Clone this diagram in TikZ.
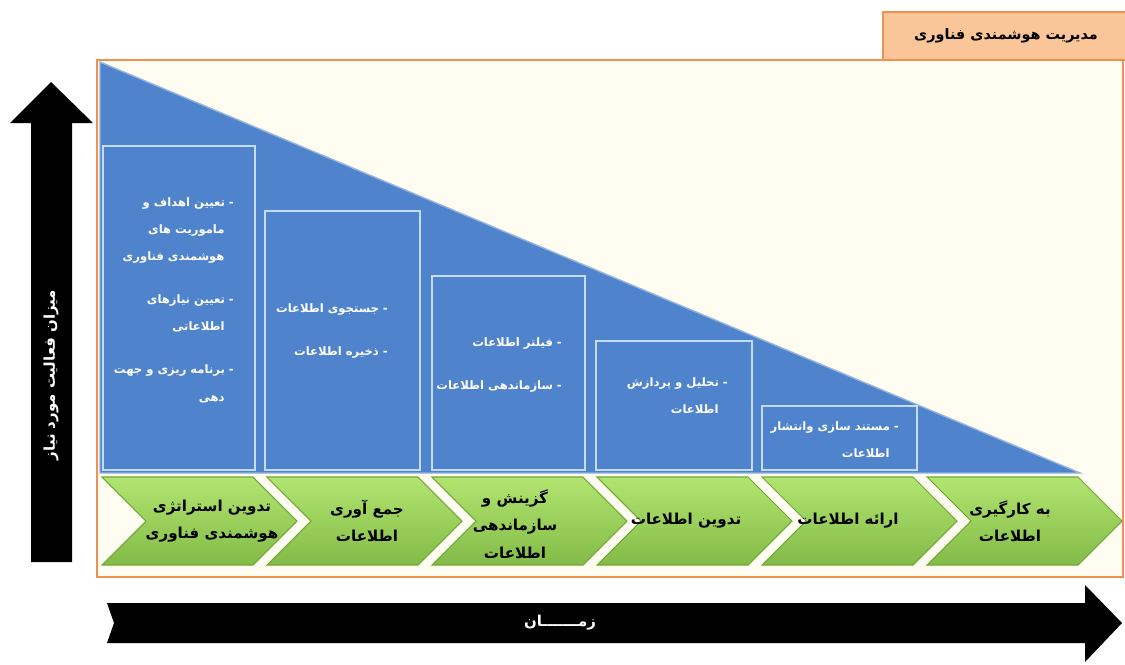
\documentclass[tikz,border=0pt]{standalone}
\usepackage{fontspec}
\newfontfamily\fafont[Script=Arabic]{DejaVu Sans}
\TeXXeTstate=1
\newcommand{\fa}[1]{\beginR #1\endR}
\usetikzlibrary{positioning,calc}
\definecolor{triblue}{RGB}{79,131,204}
\definecolor{boxline}{RGB}{195,220,248}
\definecolor{chevgreen}{RGB}{146,208,80}
\definecolor{chevlight}{RGB}{178,228,112}
\definecolor{chevedge}{RGB}{112,168,52}
\definecolor{frameorange}{RGB}{240,145,80}
\definecolor{titlefill}{RGB}{250,197,152}
\definecolor{framefill}{RGB}{255,252,242}
\tikzset{
	frame/.style={draw=frameorange, line width=1.6pt, fill=framefill},
	titlebox/.style={draw=frameorange, line width=1.2pt, fill=titlefill},
	tri/.style={fill=triblue, draw=triblue!60!white, line width=0.8pt},
	stagebox/.style={draw=boxline, line width=0.8pt},
	chev/.style={top color=chevlight, bottom color=chevgreen!90!black, draw=chevedge, line width=0.6pt},
	bigarrow/.style={fill=black},
	chevtext/.style={font=\fafont\bfseries\fontsize{8.6}{15.5}\selectfont, align=center, text=black},
	boxtext/.style={font=\fafont\bfseries\fontsize{6.6}{15.5}\selectfont, align=right, text=white, anchor=east},
	axistext/.style={font=\fafont\bfseries\fontsize{8.5}{12}\selectfont, text=white}
}
\begin{document}
\begin{tikzpicture}[x=0.02cm,y=-0.02cm]
\useasboundingbox (0,0) rectangle (1125,664);

%%%% frame and title
\draw[frame] (97,60) rectangle (1123,577);
\draw[titlebox] (883,12) rectangle (1126,60);
\node[font=\fafont\bfseries\fontsize{8.2}{12}\selectfont] (title) at (1006,36) {\fa{مدیریت هوشمندی فناوری}};

%%%% triangle
\draw[tri] (100,62) -- (100,473) -- (1080,473) -- cycle;

%%%% stage boxes
\draw[stagebox] (103,146) rectangle (255,470);
\draw[stagebox] (265,211) rectangle (420,470);
\draw[stagebox] (432,276) rectangle (585,470);
\draw[stagebox] (596,341) rectangle (752,470);
\draw[stagebox] (762,406) rectangle (917,470);

\node[boxtext] (b1) at (240,300) {\fa{- تعیین اهداف و}\\\fa{\hspace{0.8em}ماموریت های}\\\fa{\hspace{0.8em}هوشمندی فناوری}\\[9pt]\fa{- تعیین نیازهای}\\\fa{\hspace{0.8em}اطلاعاتی}\\[9pt]\fa{- برنامه ریزی و جهت}\\\fa{\hspace{0.8em}دهی}};
\node[boxtext] (b2) at (394,331) {\fa{- جستجوی اطلاعات}\\[9pt]\fa{- ذخیره اطلاعات}};
\node[boxtext] (b3) at (568,365) {\fa{- فیلتر اطلاعات}\\[9pt]\fa{- سازماندهی اطلاعات}};
\node[boxtext] (b4) at (734,396) {\fa{- تحلیل و پردازش}\\\fa{\hspace{0.8em}اطلاعات}};
\node[boxtext] (b5) at (905,440) {\fa{- مستند سازی وانتشار}\\\fa{\hspace{0.8em}اطلاعات}};

%%%% chevrons
\foreach \t in {297,462,627,792,957,1122}
	\draw[chev] (\t-195,477) -- (\t-44,477) -- (\t,521) -- (\t-44,565) -- (\t-195,565) -- (\t-151,521) -- cycle;

\node[chevtext] (c1) at (212,521) {\fa{تدوین استراتژی}\\\fa{هوشمندی فناوری}};
\node[chevtext] (c2) at (367,521) {\fa{جمع آوری}\\\fa{اطلاعات}};
\node[chevtext] (c3) at (515,524) {\fa{گزینش و}\\\fa{سازماندهی}\\\fa{اطلاعات}};
\node[chevtext] (c4) at (686,521) {\fa{تدوین اطلاعات}};
\node[chevtext] (c5) at (848,521) {\fa{ارائه اطلاعات}};
\node[chevtext] (c6) at (1010,521) {\fa{به کارگیری}\\\fa{اطلاعات}};

%%%% axes
\fill[bigarrow] (31,562) -- (31,123) -- (10,123) -- (51,82) -- (93,123) -- (72,123) -- (72,562) -- cycle;
\node[axistext, rotate=90] (yaxis) at (51,375) {\fa{میزان فعالیت مورد نیاز}};

\fill[bigarrow] (107,603) -- (1085,603) -- (1085,585) -- (1122,623) -- (1085,662) -- (1085,643) -- (107,643) -- (114,623) -- cycle;
\node[axistext] (xaxis) at (560,623) {\fa{زمـــــــان}};
\end{tikzpicture}
\end{document}
